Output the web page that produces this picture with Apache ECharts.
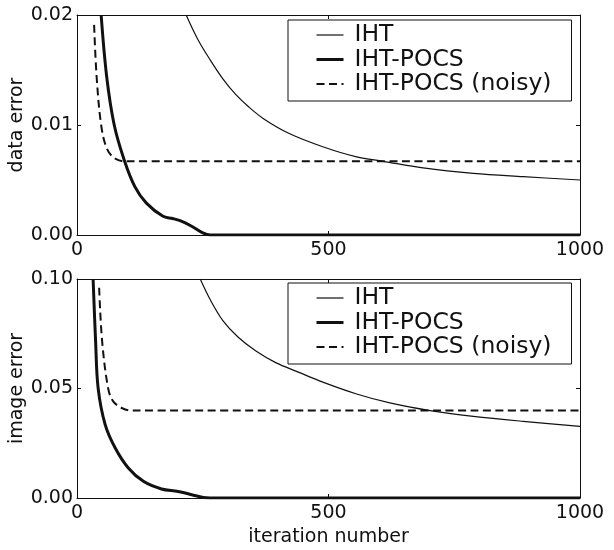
<!DOCTYPE html>
<html>
<head>
<meta charset="utf-8">
<script src="https://cdn.jsdelivr.net/npm/echarts@6/dist/echarts.min.js"></script>
<style>
  html, body { margin: 0; padding: 0; background: #fff; }
  #main { width: 614px; height: 550px; }
</style>
</head>
<body>
<div id="main"></div>
<script>
// values (iteration number / error)
const seriesNames = ['IHT', 'IHT-POCS', 'IHT-POCS (noisy)'];

const dataIhtX = [217, 240, 265, 290, 315, 340, 370, 423, 490, 556, 609, 688, 788, 887, 1000];
const dataIhtY = [0.0200, 0.0178, 0.0159, 0.0142, 0.0128, 0.0117, 0.0106, 0.0092, 0.0080, 0.0071, 0.0067, 0.0061, 0.0056, 0.0053, 0.0050];
const dataPocsX = [48, 59, 74, 94, 115, 138, 171, 190, 205, 228, 250, 265, 1000];
const dataPocsY = [0.0200, 0.0144, 0.0100, 0.0068, 0.0044, 0.0029, 0.0017, 0.0015, 0.0013, 0.0008, 0.0002, 0, 0];
const dataNoisyX = [34, 39, 48, 59, 74, 95, 1000];
const dataNoisyY = [0.0191, 0.0144, 0.0100, 0.0079, 0.0070, 0.0067, 0.0067];

const imgIhtX = [245, 265, 290, 320, 355, 395, 440, 490, 556, 622, 702, 788, 887, 1000];
const imgIhtY = [0.100, 0.0905, 0.081, 0.0735, 0.0672, 0.0618, 0.0575, 0.0528, 0.0475, 0.0434, 0.0399, 0.0373, 0.0350, 0.0327];
const imgPocsX = [32, 37, 42, 56, 76, 102, 132, 168, 201, 228, 251, 265, 1000];
const imgPocsY = [0.100, 0.0715, 0.0502, 0.0335, 0.0228, 0.0137, 0.0076, 0.0041, 0.0030, 0.0015, 0.0002, 0, 0];
const imgNoisyX = [44, 50, 62, 72, 89, 108, 1000];
const imgNoisyY = [0.096, 0.0715, 0.050, 0.0441, 0.0411, 0.0399, 0.0399];

const FONT = 'DejaVu Sans';
const INK = '#111';

function zip(xs, ys) {
    return xs.map((x, i) => [x, ys[i]]);
}

let styles = [
    {width: 1.2, type: 'solid'},
    {width: 3, type: 'solid'},
    {width: 2, type: [8, 4.5]}
];

function makeSeries(grid, pairs) {
    return pairs.map((d, i) => ({
        name: seriesNames[i],
        type: 'line',
        xAxisIndex: grid * 2,
        yAxisIndex: grid * 2,
        data: d,
        symbol: 'none',
        smooth: 0.35,
        clip: true,
        color: INK,
        animation: false,
        lineStyle: {color: INK, width: styles[i].width, type: styles[i].type}
    }));
}

function xAxes(grid, withName) {
    return [{
        type: 'value', gridIndex: grid, min: 0, max: 1000, interval: 500,
        position: 'bottom',
        name: withName ? 'iteration number' : '',
        nameLocation: 'middle', nameGap: 30,
        nameTextStyle: {fontFamily: FONT, fontSize: 19, color: INK},
        axisLine: {onZero: false, lineStyle: {color: INK, width: 1}},
        axisTick: {inside: true, length: 4, lineStyle: {color: INK}},
        axisLabel: {margin: 6, fontFamily: FONT, fontSize: 19, color: INK,
            formatter: v => String(v)},
        splitLine: {show: false}
    }, {
        type: 'value', gridIndex: grid, min: 0, max: 1000, interval: 500,
        position: 'top',
        axisLine: {onZero: false, lineStyle: {color: INK, width: 1}},
        axisTick: {inside: true, length: 4, lineStyle: {color: INK}},
        axisLabel: {show: false},
        splitLine: {show: false}
    }];
}

function yAxes(grid, max, interval, name) {
    return [{
        type: 'value', gridIndex: grid, min: 0, max: max, interval: interval,
        position: 'left',
        name: name, nameLocation: 'middle', nameGap: 50, nameRotate: 90,
        nameMoveOverlap: false,
        nameTextStyle: {fontFamily: FONT, fontSize: 19, color: INK},
        axisLine: {show: true, onZero: false, lineStyle: {color: INK, width: 1}},
        axisTick: {show: true, inside: true, length: 4, lineStyle: {color: INK}},
        axisLabel: {margin: 4, fontFamily: FONT, fontSize: 19, color: INK,
            formatter: v => v.toFixed(2)},
        splitLine: {show: false}
    }, {
        type: 'value', gridIndex: grid, min: 0, max: max, interval: interval,
        position: 'right',
        axisLine: {show: true, onZero: false, lineStyle: {color: INK, width: 1}},
        axisTick: {show: true, inside: true, length: 4, lineStyle: {color: INK}},
        axisLabel: {show: false},
        splitLine: {show: false}
    }];
}

function legendAt(top) {
    return {
        data: seriesNames.map((n, i) => ({
            name: n,
            itemStyle: {opacity: 0},
            lineStyle: {color: INK, width: styles[i].width, type: styles[i].type}
        })),
        orient: 'vertical',
        left: 288, top: top,
        borderColor: INK, borderWidth: 1,
        padding: [3, 20, 5, 27],
        itemWidth: 27, itemHeight: 22, itemGap: 0.5,
        selectedMode: false,
        textStyle: {fontFamily: FONT, fontSize: 23.5, color: INK, lineHeight: 22, padding: [0, 0, 0, 6]}
    };
}

let option = {
    backgroundColor: '#fff',
    animation: false,
    grid: [
        {left: 77, top: 15, width: 503, height: 220, outerBoundsMode: 'none'},
        {left: 77, top: 279, width: 503, height: 219, outerBoundsMode: 'none'}
    ],
    legend: [legendAt(20), legendAt(283)],
    xAxis: [...xAxes(0, false), ...xAxes(1, true)],
    yAxis: [...yAxes(0, 0.02, 0.01, 'data error'), ...yAxes(1, 0.1, 0.05, 'image error')],
    series: [
        ...makeSeries(0, [zip(dataIhtX, dataIhtY), zip(dataPocsX, dataPocsY), zip(dataNoisyX, dataNoisyY)]),
        ...makeSeries(1, [zip(imgIhtX, imgIhtY), zip(imgPocsX, imgPocsY), zip(imgNoisyX, imgNoisyY)])
    ]
};

echarts.init(document.getElementById('main')).setOption(option);
</script>
</body>
</html>
